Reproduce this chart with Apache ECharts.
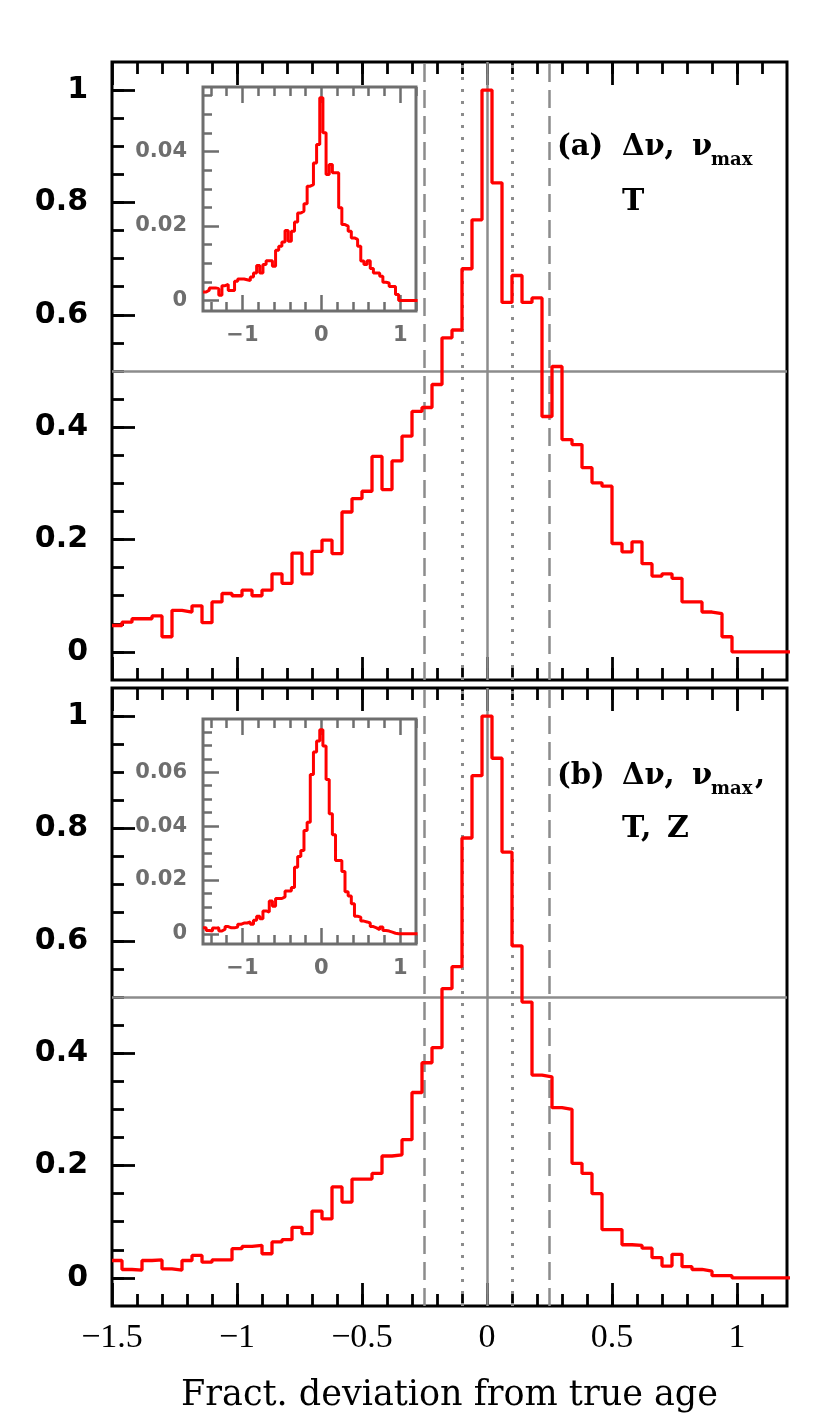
<!DOCTYPE html>
<html>
<head>
<meta charset="utf-8">
<script src="https://cdn.jsdelivr.net/npm/echarts@6/dist/echarts.min.js"></script>
<style>
html, body {margin: 0; background: #fff}
#chart {width: 830px; height: 1426px}
</style>
</head>
<body>
<div id="chart"></div>
<script>
// histogram bins: first left edge -1.5, width 0.04 (bin 37 is centred on 0)
const binStart = -1.5
const binWidth = 0.04

// panel (a) Δν, νmax, T  -- normalised to the peak bin
const histA = [
  0.047, 0.053, 0.059, 0.059, 0.064, 0.027, 0.074, 0.071, 0.082, 0.052,
  0.089, 0.104, 0.100, 0.110, 0.100, 0.110, 0.139, 0.122, 0.176, 0.139,
  0.179, 0.199, 0.175, 0.249, 0.273, 0.286, 0.348, 0.289, 0.340, 0.384,
  0.428, 0.435, 0.476, 0.559, 0.573, 0.682, 0.769, 1.000, 0.835, 0.622,
  0.670, 0.622, 0.630, 0.419, 0.508, 0.378, 0.369, 0.328, 0.301, 0.295,
  0.193, 0.178, 0.196, 0.157, 0.135, 0.139, 0.131, 0.089, 0.089, 0.071,
  0.068, 0.027, 0, 0, 0, 0, 0, 0
]
// panel (b) Δν, νmax, T, Z
const histB = [
  0.031, 0.015, 0.014, 0.031, 0.032, 0.016, 0.014, 0.031, 0.040, 0.028,
  0.032, 0.032, 0.052, 0.056, 0.058, 0.043, 0.064, 0.068, 0.090, 0.079,
  0.119, 0.105, 0.162, 0.135, 0.176, 0.176, 0.186, 0.217, 0.219, 0.246,
  0.330, 0.383, 0.410, 0.515, 0.554, 0.783, 0.894, 1.000, 0.925, 0.758,
  0.591, 0.491, 0.361, 0.358, 0.303, 0.300, 0.204, 0.186, 0.150, 0.086,
  0.086, 0.059, 0.058, 0.053, 0.036, 0.021, 0.042, 0.020, 0.015, 0.012,
  0.004, 0.004, 0, 0, 0, 0, 0, 0
]
// insets: fraction per bin
const insetA = [
  0.0023, 0.0028, 0.0034, 0.0034, 0.0032, 0.0014, 0.0040, 0.0043, 0.0027, 0.0027,
  0.0052, 0.0058, 0.0058, 0.0056, 0.0054, 0.0063, 0.0074, 0.0094, 0.0074, 0.0097,
  0.0107, 0.0107, 0.0092, 0.0135, 0.0146, 0.0157, 0.0188, 0.0159, 0.0186, 0.0211,
  0.0235, 0.0240, 0.0260, 0.0307, 0.0311, 0.0369, 0.0419, 0.0544, 0.0450, 0.0338,
  0.0365, 0.0343, 0.0343, 0.0249, 0.0204, 0.0200, 0.0186, 0.0168, 0.0164, 0.0146,
  0.0106, 0.0097, 0.0107, 0.0086, 0.0074, 0.0074, 0.0065, 0.0049, 0.0047, 0.0038,
  0.0038, 0.0016, 0, 0, 0, 0, 0, 0
]
const insetB = [
  0.0022, 0.0012, 0.0010, 0.0021, 0.0022, 0.0010, 0.0017, 0.0027, 0.0022, 0.0022,
  0.0025, 0.0035, 0.0040, 0.0040, 0.0044, 0.0035, 0.0050, 0.0065, 0.0056, 0.0085,
  0.0081, 0.0122, 0.0102, 0.0131, 0.0131, 0.0137, 0.0159, 0.0159, 0.0172, 0.0247,
  0.0287, 0.0309, 0.0384, 0.0414, 0.0592, 0.0675, 0.0716, 0.0758, 0.0698, 0.0573,
  0.0446, 0.0368, 0.0272, 0.0272, 0.0231, 0.0156, 0.0140, 0.0112, 0.0065, 0.0062,
  0.0047, 0.0044, 0.0040, 0.0027, 0.0022, 0.0015, 0.0025, 0.0012, 0.0010, 0.0006,
  0.0002, 0, 0, 0, 0, 0, 0, 0
]

// tick labels
const xTicks = [-1.5, -1, -0.5, 0, 0.5, 1]
const yTicks = [0, 0.2, 0.4, 0.6, 0.8, 1]
const insetXTicks = [-1, 0, 1]
const insetYTicksA = [0, 0.02, 0.04]
const insetYTicksB = [0, 0.02, 0.04, 0.06]

// reference lines
const refDashed = [-0.25, 0.25]
const refDotted = [-0.1, 0.1]
const refSolid = [0]
const refHalf = [0.5]

const xTitle = 'Fract. deviation from true age'

const range = (a, b, step) => {
  const out = []
  for (let v = a; v <= b + step / 2; v += step) out.push(Math.round(v * 10000) / 10000)
  return out
}
const minus = v => String(v).replace('-', '\u2212')

const BLACK = '#000'
const GREY = '#6e6e6e'
const LINE_GREY = '#8c8c8c'

function tick(values, length, color, width) {
  return {show: true, inside: true, length: length, customValues: values, lineStyle: {color: color, width: width}}
}

// bottom + top tick sets (major and minor) for one grid
function xAxes(grid, o) {
  const base = {gridIndex: grid, type: 'value', min: o.min, max: o.max, splitLine: {show: false}, axisLine: {show: false, onZero: false}}
  return [
    Object.assign({}, base, {position: 'bottom', axisTick: tick(o.major, o.long, o.color, o.tw),
      axisLabel: o.label ? Object.assign({customValues: o.major, formatter: minus}, o.label) : {show: false},
      name: o.name || '', nameLocation: 'middle', nameGap: o.nameGap, nameTextStyle: o.nameStyle}),
    Object.assign({}, base, {position: 'bottom', axisTick: tick(o.minor, o.short, o.color, o.tw), axisLabel: {show: false}}),
    Object.assign({}, base, {position: 'top', axisTick: tick(o.major, o.long, o.color, o.tw), axisLabel: {show: false}}),
    Object.assign({}, base, {position: 'top', axisTick: tick(o.minor, o.short, o.color, o.tw), axisLabel: {show: false}})
  ]
}

function yAxes(grid, o) {
  const base = {gridIndex: grid, type: 'value', min: o.min, max: o.max, position: 'left', splitLine: {show: false}, axisLine: {show: false, onZero: false}}
  return [
    Object.assign({}, base, {axisTick: tick(o.major, o.long, o.color, o.tw), axisLabel: Object.assign({customValues: o.major}, o.label)}),
    Object.assign({}, base, {axisTick: tick(o.minor, o.short, o.color, o.tw), axisLabel: {show: false}})
  ]
}

const mainX = {min: -1.5, max: 1.2, major: xTicks, minor: range(-1.4, 1.1, 0.1), long: 23, short: 12, color: BLACK, tw: 2.8}
const mainY = {min: -0.05, max: 1.05, major: yTicks, minor: range(0, 1, 0.05), long: 23, short: 12, color: BLACK, tw: 2.8,
  label: {fontFamily: 'DejaVu Sans', fontWeight: 'bold', fontSize: 30, color: BLACK, margin: 24}}
const inX = {min: -1.5, max: 1.2, major: insetXTicks, minor: range(-1.4, 1.2, 0.2), long: 16, short: 9, color: GREY, tw: 2.5}
const inLabel = {fontFamily: 'DejaVu Sans', fontWeight: 'bold', fontSize: 21, color: GREY, margin: 16}

const xAxis = [].concat(
  xAxes(0, mainX),
  xAxes(1, Object.assign({}, mainX, {
    label: {fontFamily: 'Liberation Serif', fontSize: 34, color: BLACK, margin: 15},
    name: xTitle, nameGap: 72,
    nameStyle: {fontFamily: 'DejaVu Serif', fontSize: 35, color: BLACK}
  })),
  xAxes(2, Object.assign({}, inX, {label: Object.assign({}, inLabel, {margin: 14})})),
  xAxes(3, Object.assign({}, inX, {label: Object.assign({}, inLabel, {margin: 14})}))
)
const yAxis = [].concat(
  yAxes(0, mainY),
  yAxes(1, mainY),
  yAxes(2, {min: -0.0028, max: 0.0573, major: insetYTicksA, minor: range(0, 0.055, 0.005), long: 16, short: 9, color: GREY, tw: 2.5, label: inLabel}),
  yAxes(3, {min: -0.0038, max: 0.0798, major: insetYTicksB, minor: range(0, 0.075, 0.005), long: 16, short: 9, color: GREY, tw: 2.5, label: inLabel})
)

function steps(hist) {
  const pts = hist.map((h, k) => [binStart + k * binWidth, h])
  pts.push([binStart + hist.length * binWidth, hist[hist.length - 1]])
  return pts
}

function refLines(grid) {
  const v = (x, type, width) => ({xAxis: x, lineStyle: {color: LINE_GREY, width: width, type: type}})
  return {
    type: 'line', xAxisIndex: grid * 4, yAxisIndex: grid * 2, data: [], silent: true, z: 1,
    markLine: {
      silent: true, symbol: 'none', label: {show: false}, animation: false, z: 1,
      data: [].concat(
        refDashed.map(x => v(x, [18, 8], 2.5)),
        refDotted.map(x => v(x, [3, 9], 3)),
        refSolid.map(x => v(x, 'solid', 2.5)),
        refHalf.map(y => ({yAxis: y, lineStyle: {color: LINE_GREY, width: 2.5, type: 'solid'}}))
      )
    }
  }
}

function hist(grid, data, width) {
  return {
    type: 'line', step: 'end', xAxisIndex: grid * 4, yAxisIndex: grid * 2, data: steps(data),
    symbol: 'none', z: 3, clip: true,
    lineStyle: {color: '#ff0000', width: width}
  }
}

const txt = (x, y, text, size, style) => ({
  type: 'text', x: x, y: y, z: 10,
  style: {text: text, fill: BLACK, verticalAlign: 'middle',
    font: (style || 'bold') + ' ' + size + 'px "DejaVu Serif"'}
})

const chart = echarts.init(document.getElementById('chart'))
chart.setOption({
  animation: false,
  backgroundColor: '#fff',
  grid: [
    {left: 112, top: 62, width: 675, height: 618, show: true, borderColor: BLACK, borderWidth: 3, outerBoundsMode: 'none'},
    {left: 112, top: 688, width: 675, height: 618, show: true, borderColor: BLACK, borderWidth: 3, outerBoundsMode: 'none'},
    {left: 203, top: 87, width: 213, height: 224, show: true, borderColor: GREY, borderWidth: 3, outerBoundsMode: 'none'},
    {left: 203, top: 719, width: 213, height: 225, show: true, borderColor: GREY, borderWidth: 3, outerBoundsMode: 'none'}
  ],
  xAxis: xAxis,
  yAxis: yAxis,
  series: [
    refLines(0), refLines(1),
    hist(0, histA, 3.3), hist(1, histB, 3.3),
    hist(2, insetA, 3), hist(3, insetB, 3)
  ],
  graphic: [
    txt(557, 147, '(a)', 29),
    txt(622, 147, 'Δν,', 29),
    txt(692, 147, 'ν', 29),
    txt(711, 160, 'max', 18),
    txt(622, 202, 'T', 30),
    txt(557, 776, '(b)', 29),
    txt(622, 776, 'Δν,', 29),
    txt(692, 776, 'ν', 29),
    txt(711, 789, 'max', 18),
    txt(755, 776, ',', 29),
    txt(622, 829, 'T,', 30),
    txt(667, 829, 'Z', 30)
  ]
})
</script>
</body>
</html>
